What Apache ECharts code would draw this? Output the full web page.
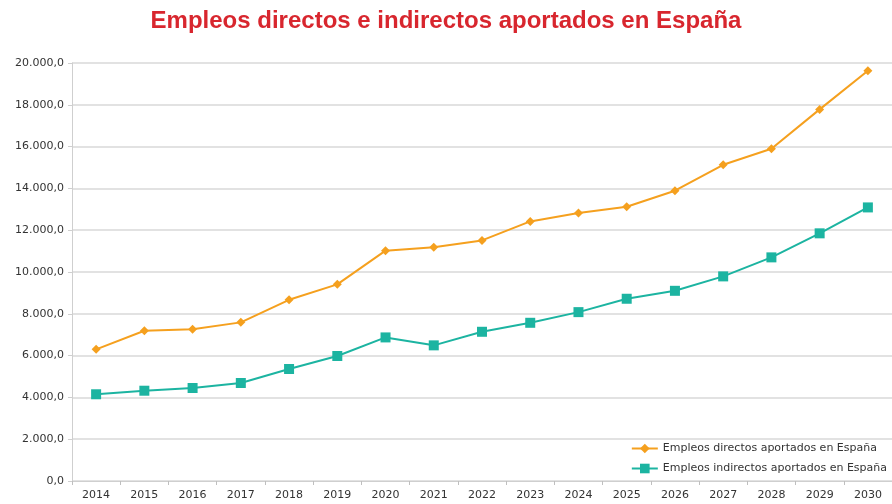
<!DOCTYPE html>
<html>
<head>
<meta charset="utf-8">
<style>
  html, body { margin: 0; padding: 0; background: #ffffff; }
  #chart { width: 892px; height: 504px; }
</style>
<script src="https://cdn.jsdelivr.net/npm/echarts@6/dist/echarts.min.js"></script>
</head>
<body>
<div id="chart"></div>
<script>
// Years on the horizontal axis
const years = ['2014','2015','2016','2017','2018','2019','2020','2021','2022',
               '2023','2024','2025','2026','2027','2028','2029','2030'];

// Direct employment contributed in Spain
const directos = [6300, 7190, 7260, 7590, 8670, 9410, 11020, 11180, 11510,
                  12420, 12820, 13120, 13890, 15130, 15900, 17780, 19630];

// Indirect employment contributed in Spain
const indirectos = [4150, 4320, 4450, 4690, 5360, 5980, 6870, 6490, 7140,
                    7570, 8080, 8720, 9100, 9790, 10700, 11850, 13090];

const seriesNames = ['Empleos directos aportados en España',
                     'Empleos indirectos aportados en España'];

const labelFont = 'DejaVu Sans, Verdana, sans-serif';

// Spanish number format: thousands with dots, one decimal with comma
function fmt(v) {
  const parts = v.toFixed(1).split('.');
  parts[0] = parts[0].replace(/\B(?=(\d{3})+(?!\d))/g, '.');
  return parts.join(',');
}

const chart = echarts.init(document.getElementById('chart'), null, { renderer: 'canvas' });

chart.setOption({
  animation: false,
  backgroundColor: '#ffffff',
  title: {
    text: 'Empleos directos e indirectos aportados en España',
    left: 'center',
    top: 4,
    textStyle: {
      fontFamily: 'Liberation Sans, Arial, sans-serif',
      fontSize: 24,
      fontWeight: 'bold',
      color: '#d8262e'
    }
  },
  legend: {
    orient: 'vertical',
    right: 0,
    top: 438,
    itemWidth: 26,
    itemHeight: 12,
    itemGap: 9,
    textStyle: {
      fontFamily: labelFont,
      fontSize: 11,
      color: '#333333'
    },
    data: seriesNames
  },
  grid: {
    left: 72,
    top: 63,
    width: 824,
    height: 418,
    containLabel: false
  },
  xAxis: {
    type: 'category',
    data: years,
    boundaryGap: true,
    axisLine: { lineStyle: { color: '#cfcfcf', width: 1 } },
    axisTick: { show: true, alignWithLabel: false, length: 4, lineStyle: { color: '#bfbfbf' } },
    axisLabel: {
      margin: 9,
      fontFamily: labelFont,
      fontSize: 11,
      color: '#333333'
    }
  },
  yAxis: {
    type: 'value',
    min: 0,
    max: 20000,
    interval: 2000,
    axisLine: { show: true, lineStyle: { color: '#cfcfcf', width: 1 } },
    axisTick: { show: true, length: 4, lineStyle: { color: '#cfcfcf' } },
    splitLine: { lineStyle: { color: '#d9d9d9', width: 1.5 } },
    axisLabel: {
      margin: 8,
      fontFamily: labelFont,
      fontSize: 11,
      color: '#333333',
      formatter: fmt
    }
  },
  series: [
    {
      name: seriesNames[0],
      type: 'line',
      data: directos,
      symbol: 'diamond',
      symbolSize: 9,
      lineStyle: { color: '#f5a01e', width: 2 },
      itemStyle: { color: '#f5a01e' }
    },
    {
      name: seriesNames[1],
      type: 'line',
      data: indirectos,
      symbol: 'rect',
      symbolSize: 10,
      lineStyle: { color: '#1cb4a1', width: 2 },
      itemStyle: { color: '#1cb4a1' }
    }
  ]
});
</script>
</body>
</html>
